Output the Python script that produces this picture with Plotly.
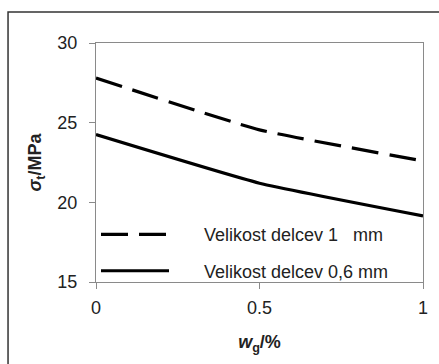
import plotly.graph_objects as go

x_vals = [0, 0.5, 1]
s_1mm = [27.8, 24.55, 22.6]
s_06mm = [24.25, 21.2, 19.15]
names = ["\u00a0\u00a0\u00a0\u00a0\u00a0\u00a0Velikost delcev 1\u00a0\u00a0\u00a0mm",
         "\u00a0\u00a0\u00a0\u00a0\u00a0\u00a0Velikost delcev 0,6 mm"]
x_ticks = [0, 0.5, 1]
x_ticktext = ["0", "0.5", "1"]
y_ticks = [15, 20, 25, 30]

FONT = "Liberation Sans, Arial, sans-serif"

fig = go.Figure()
fig.add_trace(go.Scatter(x=x_vals, y=s_1mm, mode="lines", name=names[0],
                         legendgroup="a",
                         line=dict(color="black", width=3.2, dash="27px,11px",
                                   shape="spline", smoothing=0.4)))
fig.add_trace(go.Scatter(x=x_vals, y=s_06mm, mode="lines", name=names[1],
                         legendgroup="b",
                         line=dict(color="black", width=3.2,
                                   shape="spline", smoothing=0.4)))

axis_common = dict(showline=True, linecolor="#8a8a8a", linewidth=1.2, mirror=True,
                   ticks="outside", ticklen=6, tickcolor="#8a8a8a", tickwidth=1,
                   showgrid=False, zeroline=False,
                   tickfont=dict(family=FONT, size=18, color="#222"))

fig.update_layout(
    width=439, height=364,
    margin=dict(l=96, r=16, t=43, b=82),
    paper_bgcolor="white", plot_bgcolor="white",
    showlegend=True,
    legend=dict(x=0.0, y=-0.03, xanchor="left", yanchor="bottom",
                bgcolor="rgba(0,0,0,0)", itemwidth=68,
                traceorder="grouped", tracegroupgap=10,
                font=dict(family=FONT, size=18, color="#222")),
    xaxis=dict(range=[0, 1], tickvals=x_ticks, ticktext=x_ticktext,
               ticklabelstandoff=3,
               title=dict(text="<b><i>w</i><sub>g</sub>/%</b>", standoff=18,
                          font=dict(family=FONT, size=18, color="#222")),
               **axis_common),
    yaxis=dict(range=[15, 30], tickvals=y_ticks, ticklabelstandoff=8,
               title=dict(text="<b><i>σ</i><sub>t</sub>/MPa</b>", standoff=10,
                          font=dict(family=FONT, size=18, color="#222")),
               **axis_common),
    shapes=[dict(type="rect", xref="paper", yref="paper",
                 x0=-0.269, x1=1.3, y0=-0.6, y1=1.13,
                 line=dict(color="#333", width=1.5), layer="below")],
)

fig.write_html("out.html")
